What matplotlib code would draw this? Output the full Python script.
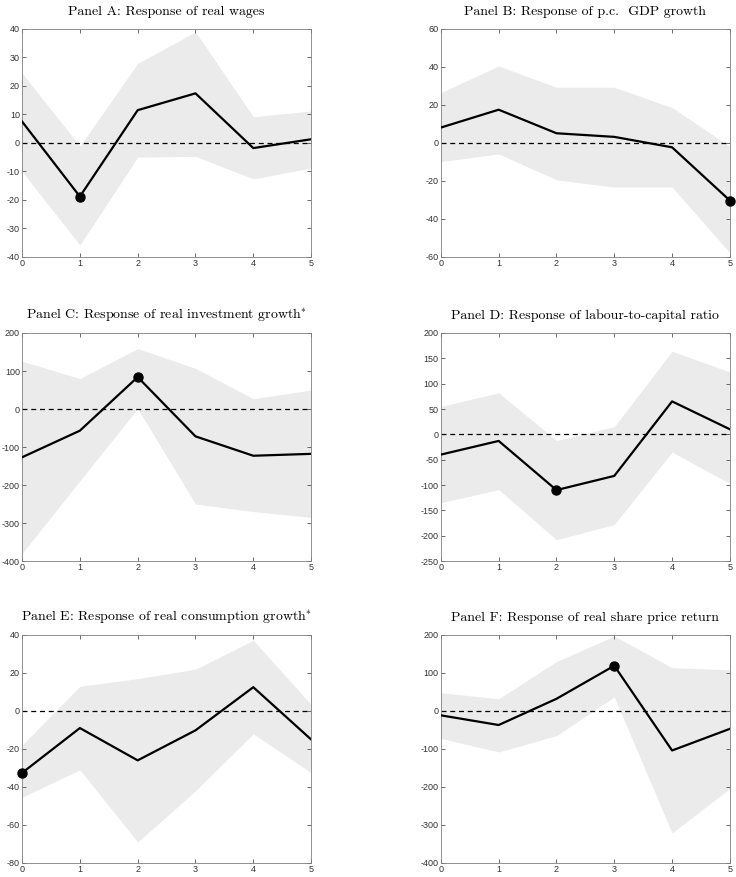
import matplotlib
matplotlib.use("Agg")
import matplotlib.pyplot as plt
import numpy as np

###############################
###          DATA           ###
###############################
horizon = [0, 1, 2, 3, 4, 5]

titles = [
    "Panel A: Response of real wages",
    "Panel B: Response of p.c.  GDP growth",
    "Panel C: Response of real investment growth$^{*}$",
    "Panel D: Response of labour-to-capital ratio",
    "Panel E: Response of real consumption growth$^{*}$",
    "Panel F: Response of real share price return",
]

# point estimates
irf_a = [7.5, -18.8, 11.5, 17.4, -1.8, 1.3]
irf_b = [8.1, 17.5, 5.1, 3.2, -2.3, -30.3]
irf_c = [-127, -57, 84, -72, -123, -118]
irf_d = [-40, -13, -110, -82, 65, 10]
irf_e = [-32.6, -9, -26, -10.2, 12.5, -15]
irf_f = [-11.5, -37, 32, 119, -104, -47]

# upper bands
up_a = [24.5, -1.1, 27.9, 39, 9.2, 11.2]
up_b = [26.5, 40.5, 29.3, 29.3, 18.6, -1.8]
up_c = [126, 80, 159, 107, 27, 50]
up_d = [55, 82, -12, 15, 164, 123]
up_e = [-18, 13, 17, 22, 37.2, 3.4]
up_f = [48, 32, 130, 197, 114, 108]

# lower bands
lo_a = [-10, -35.8, -5, -4.7, -12.6, -8.8]
lo_b = [-9.8, -5.8, -19.4, -23.2, -23.2, -57.8]
lo_c = [-380, -189, 1, -250, -270, -285]
lo_d = [-135, -109, -208, -178, -35, -97]
lo_e = [-45.4, -31, -69, -42, -12, -32.5]
lo_f = [-72, -108, -65, 37, -321, -204]

# highlighted horizon per panel
peak = [1, 5, 2, 2, 0, 3]

# y-axis limits and ticks
ylims = [(-40, 40), (-60, 60), (-400, 200), (-250, 200), (-80, 40), (-400, 200)]
ysteps = [10, 20, 100, 50, 20, 100]

irfs = [irf_a, irf_b, irf_c, irf_d, irf_e, irf_f]
ups = [up_a, up_b, up_c, up_d, up_e, up_f]
los = [lo_a, lo_b, lo_c, lo_d, lo_e, lo_f]

###############################
###         FIGURE          ###
###############################
plt.rcParams['mathtext.fontset'] = 'cm'
plt.rcParams['axes.unicode_minus'] = False
plt.rcParams['font.family'] = ['Liberation Sans', 'DejaVu Sans']

fig = plt.figure(figsize=(7.36, 8.77), dpi=100)

lefts = [0.030, 0.599]
bottoms = [0.7070, 0.3603, 0.0160]
w = 0.3927
h = 0.2600

axis_grey = '#333333'

for i in range(6):
    row, col = divmod(i, 2)
    ax = fig.add_axes([lefts[col], bottoms[row], w, h])

    ax.fill_between(horizon, los[i], ups[i], color='#ebebeb', lw=0, zorder=1)
    ax.axhline(0, color='black', ls=(0, (4, 3)), lw=0.9, zorder=2)
    ax.plot(horizon, irfs[i], color='black', lw=1.6, zorder=3)
    k = peak[i]
    ax.plot(horizon[k], irfs[i][k], 'o', color='black', ms=6.5, zorder=4, clip_on=False)

    ymin, ymax = ylims[i]
    ax.set_xlim(0, 5)
    ax.set_ylim(ymin, ymax)
    ax.set_xticks(horizon)
    ax.set_yticks(np.arange(ymin, ymax + 1, ysteps[i]))
    ax.tick_params(direction='in', top=True, right=True, length=3, width=0.5,
                   labelsize=6.5, colors=axis_grey, pad=1.5)
    for sp in ax.spines.values():
        sp.set_color('#7f7f7f')
        sp.set_linewidth(0.6)

    ax.set_title(titles[i], fontsize=10, pad=10, color='black', family='cmr10')

fig.savefig('out.png', dpi=100)
